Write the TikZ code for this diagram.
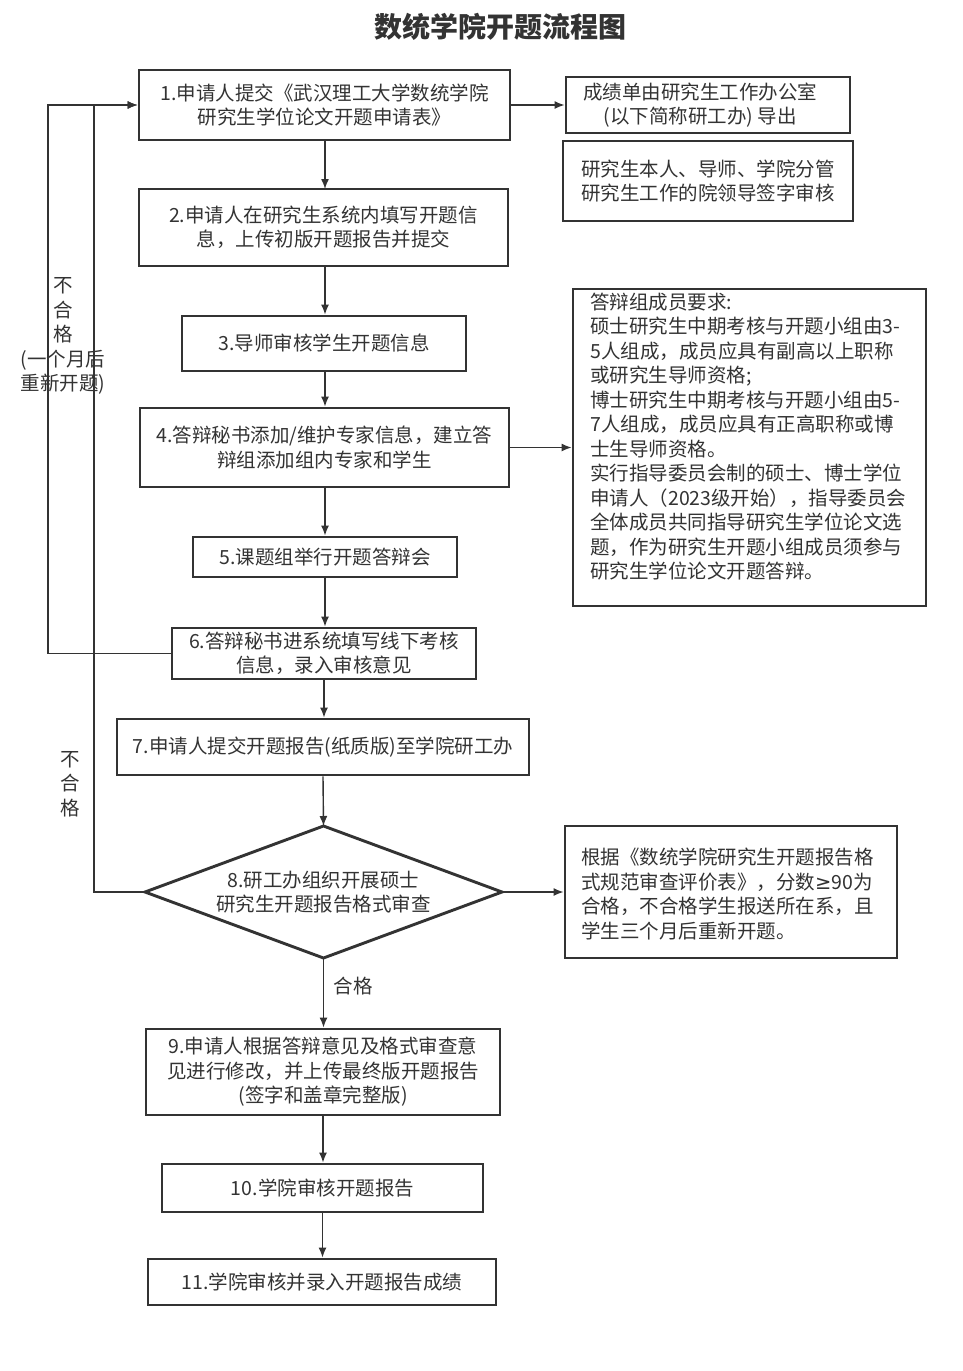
\documentclass[tikz,border=0pt]{standalone}
\usepackage{fontspec}
\setmainfont{Noto Sans CJK SC}
\newfontfamily\symfont{DejaVu Sans}
\usetikzlibrary{arrows.meta}
\definecolor{ink}{HTML}{333333}
\begin{document}
\begin{tikzpicture}[x=1pt,y=-1pt,
  every node/.style={text=ink, font=\fontsize{19.5}{24.5}\selectfont},
  box/.style={draw=ink, line width=2.9pt, inner sep=0pt, align=center},
  conn/.style={draw=ink, line width=1.4pt, -{Latex[length=10pt,width=8pt]}},
  plain/.style={draw=ink, line width=1.4pt}]
\useasboundingbox[fill=white] (0,0) rectangle (962,1371);
\node[font=\fontsize{28}{32}\selectfont\bfseries] (title) at (500,27) {数统学院开题流程图};
\node[box, minimum width=371pt, minimum height=70pt] (b1) at (324.5,105) {1.申请人提交《武汉理工大学数统学院\\研究生学位论文开题申请表》};
\node[box, minimum width=284pt, minimum height=56pt] (r1) at (708,105) {};
\node[align=center, inner sep=0pt] (r1t) at (700,105) {成绩单由研究生工作办公室\\(以下简称研工办) 导出};
\node[box, minimum width=290pt, minimum height=80pt] (r2) at (708,181) {研究生本人、导师、学院分管\\研究生工作的院领导签字审核};
\node[box, minimum width=369pt, minimum height=77pt] (b2) at (323.5,227.5) {2.申请人在研究生系统内填写开题信\\息，上传初版开题报告并提交};
\node[box, minimum width=284pt, minimum height=55pt] (b3) at (324,343.5) {3.导师审核学生开题信息};
\node[box, minimum width=369pt, minimum height=79pt] (b4) at (324.5,447.5) {4.答辩秘书添加/维护专家信息，建立答\\辩组添加组内专家和学生};
\node[box, minimum width=353pt, minimum height=317pt] (bb) at (749.5,447.5) {};
\node[anchor=west, align=left, inner sep=0pt] (bbt) at (590,436.5) {答辩组成员要求:\\硕士研究生中期考核与开题小组由3-\\5人组成，成员应具有副高以上职称\\或研究生导师资格;\\博士研究生中期考核与开题小组由5-\\7人组成，成员应具有正高职称或博\\士生导师资格。\\实行指导委员会制的硕士、博士学位\\申请人（2023级开始），指导委员会\\全体成员共同指导研究生学位论文选\\题，作为研究生开题小组成员须参与\\研究生学位论文开题答辩。};
\node[box, minimum width=264pt, minimum height=40pt] (b5) at (325,557) {5.课题组举行开题答辩会};
\node[box, minimum width=304pt, minimum height=51pt] (b6) at (324,653.5) {6.答辩秘书进系统填写线下考核\\信息，录入审核意见};
\node[box, minimum width=412pt, minimum height=56pt] (b7) at (323,747) {7.申请人提交开题报告(纸质版)至学院研工办};
\coordinate (dN) at (323.5,826);
\coordinate (dS) at (323.5,958);
\coordinate (dW) at (145,892);
\coordinate (dE) at (502,892);
\draw[ink, line width=2.9pt, line join=miter] (dN) -- (dE) -- (dS) -- (dW) -- cycle;
\node[align=center] (d8) at (323.5,892) {8.研工办组织开展硕士\\研究生开题报告格式审查};
\node[box, minimum width=332pt, minimum height=132pt] (r8) at (731,892) {};
\node[anchor=west, align=left, inner sep=0pt] (r8t) at (581,894) {根据《数统学院研究生开题报告格\\式规范审查评价表》，分数{\symfont ≥}90为\\合格，不合格学生报送所在系，且\\学生三个月后重新开题。};
\node[box, minimum width=354pt, minimum height=86pt] (b9) at (323,1072) {9.申请人根据答辩意见及格式审查意\\见进行修改，并上传最终版开题报告\\(签字和盖章完整版)};
\node[box, minimum width=321pt, minimum height=48pt] (b10) at (322.5,1188) {10.学院审核开题报告};
\node[box, minimum width=348pt, minimum height=46pt] (b11) at (322,1282) {11.学院审核并录入开题报告成绩};
% labels
\node[align=center] (l1) at (63,336) {不\\合\\格\\(一个月后\\重新开题)};
\node[align=center] (l2) at (70,784) {不\\合\\格};
% connectors
\draw[conn] (b1.south -| 325,0) -- (325,189);
\draw[conn] (b1.east) -- (r1.west);
\draw[conn] (b2.south -| 325,0) -- (b3.north -| 325,0);
\draw[conn] (b3.south -| 325,0) -- (b4.north -| 325,0);
\draw[conn] (b4.east) -- (bb.west);
\draw[conn] (b4.south -| 325,0) -- (b5.north -| 325,0);
\draw[conn] (b5.south -| 325,0) -- (b6.north -| 325,0);
\draw[conn] (b6.south -| 324,0) -- (b7.north -| 324,0);
\draw[conn] (b7.south) -- (dN);
\draw[conn] (dE) -- (r8.west |- dE);
\draw[conn] (dS) -- node[right=6pt, pos=0.4] (ok) {合格} (dS |- b9.north);
\draw[conn] (b9.south) -- (b9.south |- b10.north);
\draw[conn] (b10.south) -- (b10.south |- b11.north);
\draw[conn] (b6.west) -- (48,653.5) |- (b1.west);
\draw[conn] (dW) -- (94,892) |- (b1.west);
\end{tikzpicture}
\end{document}
